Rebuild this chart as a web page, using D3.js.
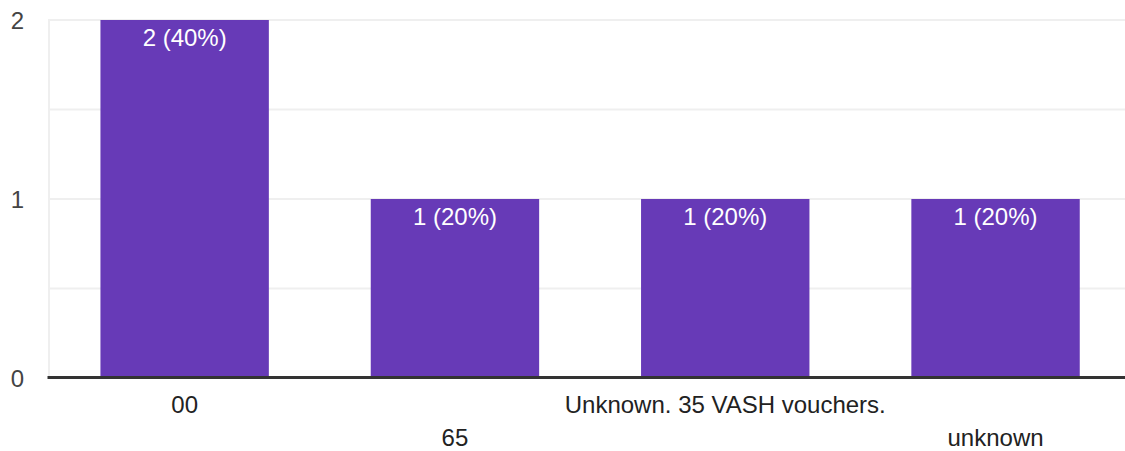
<!DOCTYPE html>
<html>
<head>
<meta charset="utf-8">
<script src="https://cdn.jsdelivr.net/npm/d3@7"></script>
<style>
  html, body { margin: 0; padding: 0; background: #fff; }
  svg { display: block; font-family: "Liberation Sans", Arial, sans-serif; }
</style>
</head>
<body>
<svg id="chart" width="1125" height="451"></svg>
<script>
const categories = ["00", "65", "Unknown. 35 VASH vouchers.", "unknown"];
const counts = [2, 1, 1, 1];
const barLabels = ["2 (40%)", "1 (20%)", "1 (20%)", "1 (20%)"];
const yTicks = [0, 1, 2];
const yGrid = [0.5, 1, 1.5, 2];

(function () {
const svg = d3.select("#chart");
const W = 1125;
const mLeft = 49.5, mRight = 1130.7, mTop = 20, mBottom = 378;

const x = d3.scaleBand().domain(categories).range([mLeft, mRight])
  .paddingInner(0.377).paddingOuter(0.1885);
const y = d3.scaleLinear().domain([0, 2]).range([mBottom, mTop]);

// gridlines
svg.append("g").selectAll("line").data(yGrid).join("line")
  .attr("x1", mLeft - 1).attr("x2", W)
  .attr("y1", d => y(d)).attr("y2", d => y(d))
  .attr("stroke", "#efefef").attr("stroke-width", 2);
// left vertical line
svg.append("line").attr("x1", 49).attr("x2", 49)
  .attr("y1", mTop - 1).attr("y2", mBottom)
  .attr("stroke", "#efefef").attr("stroke-width", 2);

// bars
svg.append("g").selectAll("rect").data(categories).join("rect")
  .attr("x", d => x(d)).attr("width", x.bandwidth())
  .attr("y", (d, i) => y(counts[i]))
  .attr("height", (d, i) => y(0) - y(counts[i]))
  .attr("fill", "#673ab7");

// bar labels
svg.append("g").selectAll("text").data(categories).join("text")
  .attr("x", d => x(d) + x.bandwidth() / 2)
  .attr("y", (d, i) => y(counts[i]) + 25.5)
  .attr("text-anchor", "middle")
  .attr("font-size", 24).attr("fill", "#fff")
  .text((d, i) => barLabels[i]);

// baseline
svg.append("line").attr("x1", 47.5).attr("x2", W)
  .attr("y1", y(0) - 0.5).attr("y2", y(0) - 0.5)
  .attr("stroke", "#333").attr("stroke-width", 3);

// y axis labels
const yAxis = d3.axisLeft(y).tickValues(yTicks).tickSize(0).tickPadding(0)
  .tickFormat(d3.format("d"));
const gy = svg.append("g").attr("transform", "translate(24,0)").call(yAxis);
gy.select(".domain").remove();
gy.selectAll("text").attr("font-size", 24).attr("fill", "#444")
  .attr("font-family", "Liberation Sans, Arial, sans-serif")
  .attr("dy", "0.36em");

// x axis labels (staggered)
const xAxis = d3.axisBottom(x).tickSize(0).tickPadding(0);
const gx = svg.append("g").call(xAxis);
gx.select(".domain").remove();
gx.selectAll("text")
  .attr("font-size", 24).attr("fill", "#222")
  .attr("font-family", "Liberation Sans, Arial, sans-serif")
  .attr("dy", null)
  .attr("y", (d, i) => i % 2 === 0 ? 413 : 446);
})();
</script>
</body>
</html>
